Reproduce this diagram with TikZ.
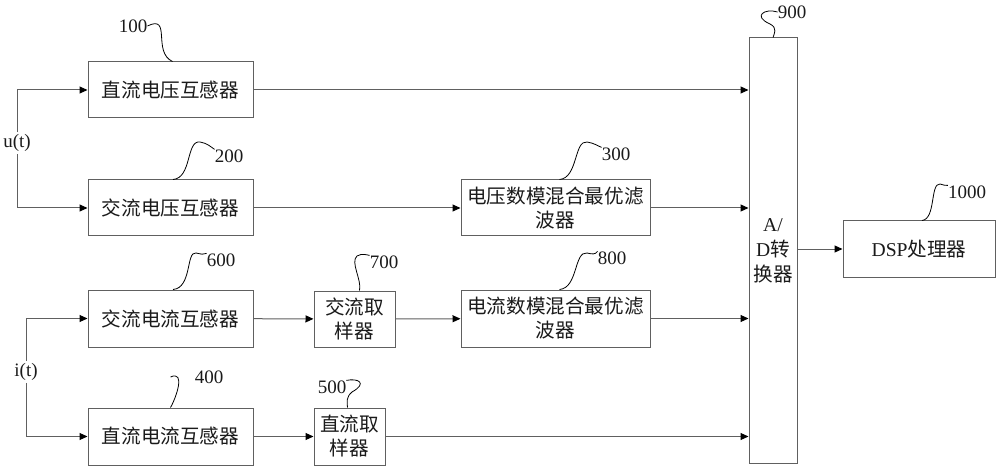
\documentclass[tikz,border=0pt]{standalone}
\usepackage{fontspec}
\setmainfont{Liberation Serif}
\newfontfamily\cjk{Noto Sans CJK SC}
\usetikzlibrary{positioning,arrows.meta}
\definecolor{BLine}{HTML}{606060}
\definecolor{BInk}{HTML}{1A1A1A}

\tikzset{
  blk/.style={draw=BLine, line width=1pt, inner sep=0pt, align=center,
    text=BInk, font=\fontsize{19.6}{24}\selectfont\cjk},
  arr/.style={draw=BLine, line width=1pt,
    -{Triangle[length=8pt,width=7pt,color=black]}},
  tagnum/.style={inner sep=0pt, text=BInk, font=\fontsize{19}{19}\selectfont},
  tag/.style={draw=black, line width=0.8pt},
  sig/.style={inner sep=2pt, text=BInk, font=\fontsize{19}{19}\selectfont}
}

\begin{document}
\begin{tikzpicture}[x=1pt,y=-1pt]
  \useasboundingbox (0,0) rectangle (1000,470);

  % voltage branch
  \node[blk, minimum width=165, minimum height=56] (dcv) at (170.5,90) {直流电压互感器};
  \node[blk, minimum width=165, minimum height=56] (acv) at (170.5,208) {交流电压互感器};
  \node[blk, minimum width=189, minimum height=56] (vfil) at (555.5,208) {电压数模混合最优滤\\波器};

  % current branch
  \node[blk, minimum width=165, minimum height=57] (acc) at (170.5,318.5) {交流电流互感器};
  \node[blk, minimum width=81, minimum height=56] (acs) at (354.5,319) {交流取\\样器};
  \node[blk, minimum width=189, minimum height=57] (cfil) at (555.5,318.5) {电流数模混合最优滤\\波器};
  \node[blk, minimum width=165, minimum height=57] (dcc) at (170.5,436.5) {直流电流互感器};
  \node[blk, minimum width=71, minimum height=57] (dcs) at (349.5,436.5) {直流取\\样器};

  % converter and processor
  \node[blk, minimum width=48, minimum height=425, font=\fontsize{19.6}{25}\selectfont\cjk] (adc) at (773,250.5) {{\rmfamily A/}\\{\rmfamily D}转\\换器};
  \node[blk, minimum width=152, minimum height=56] (dsp) at (919,249) {{\rmfamily DSP}处理器};

  % input signals
  \node[sig] (ut) at (17,143) {u(t)};
  \node[sig] (it) at (26,372) {i(t)};
  \draw[arr] (ut.north) |- (dcv.west);
  \draw[arr] (ut.south) |- (acv.west);
  \draw[arr] (it.north) |- (acc.west);
  \draw[arr] (it.south) |- (dcc.west);

  % signal flow
  \draw[arr] (dcv.east) -- (dcv.east -| adc.west);
  \draw[arr] (acv) -- (vfil);
  \draw[arr] (vfil.east) -- (vfil.east -| adc.west);
  \draw[arr] (acc) -- (acs);
  \draw[arr] (acs) -- (cfil);
  \draw[arr] (cfil.east) -- (cfil.east -| adc.west);
  \draw[arr] (dcc) -- (dcs);
  \draw[arr] (dcs.east) -- (dcs.east -| adc.west);
  \draw[arr] (adc.east |- dsp.west) -- (dsp.west);

  % reference numerals
  \node[tagnum] (t100) at (133,26) {100};
  \node[tagnum] (t200) at (229,156) {200};
  \node[tagnum] (t300) at (616,154) {300};
  \node[tagnum] (t600) at (221,260) {600};
  \node[tagnum] (t700) at (384,262) {700};
  \node[tagnum] (t800) at (612,258) {800};
  \node[tagnum] (t400) at (209,377) {400};
  \node[tagnum] (t500) at (332,387) {500};
  \node[tagnum] (t900) at (792,12) {900};
  \node[tagnum] (t1000) at (967,192) {1000};

  \draw[tag] (t100.east) .. controls (172,14) and (152,52) .. ([xshift=2]dcv.north);
  \draw[tag] ([xshift=2.5]acv.north) .. controls (192,178) and (186,140) .. (200,142) .. controls (207,143) and (211,147) .. (t200.north west);
  \draw[tag] ([xshift=4]vfil.north) .. controls (578,178) and (574,140) .. (587,142) .. controls (594,143) and (598,146) .. (t300.north west);
  \draw[tag] ([xshift=2.5]acc.north) .. controls (192,288) and (186,251) .. (196,253) .. controls (201,254) and (204,255) .. (t600.north west);
  \draw[tag] ([xshift=5]acs.north) .. controls (362,280) and (350,262) .. (357,256) .. controls (362,253) and (367,255) .. (t700.north west);
  \draw[tag] ([xshift=4]cfil.north) .. controls (578,288) and (574,251) .. (587,253) .. controls (592,254) and (595,255) .. (t800.north west);
  \draw[tag] ([xshift=-24]t400.west) .. controls (186,370) and (176,398) .. (dcc.north);
  \draw[tag] (t500.north east) .. controls (358,378) and (368,383) .. (352,392) .. controls (346,397) and (347,402) .. ([xshift=-2]dcs.north);
  \draw[tag] (t900.west) .. controls (765,8) and (752,16) .. (770,24) .. controls (778,28) and (774,34) .. (adc.north);
  \draw[tag] ([xshift=3]dsp.north) .. controls (936,219) and (930,183) .. (940,184) .. controls (944,185) and (946,186) .. (t1000.north west);
\end{tikzpicture}
\end{document}
